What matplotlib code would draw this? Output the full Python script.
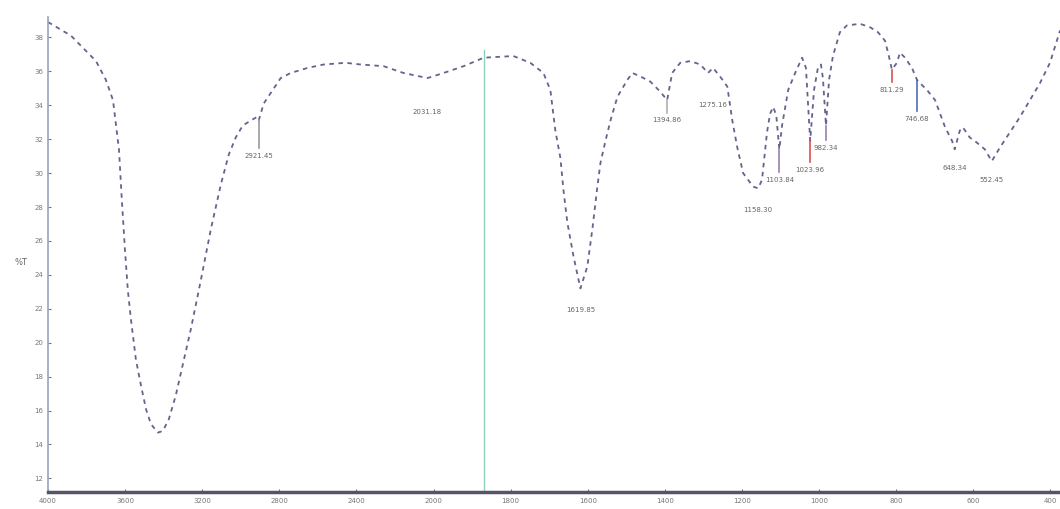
import numpy as np
import matplotlib
matplotlib.use('Agg')
import matplotlib.pyplot as plt

# IR spectrum (wavenumber cm-1, %T)
wavenumber = [4000, 3881, 3751, 3700, 3663, 3632, 3617, 3601, 3586, 3570, 3544, 3518,
              3492, 3466, 3430, 3404, 3373, 3337, 3301, 3259, 3207, 3155, 3104, 3062,
              3026, 2990, 2948, 2917, 2907, 2881, 2834, 2793, 2741, 2653, 2570, 2456,
              2378, 2259, 2156, 2031, 1974, 1922, 1870, 1793, 1749, 1715, 1697, 1684,
              1671, 1663, 1653, 1637, 1619, 1601, 1588, 1575, 1567, 1554, 1541, 1523,
              1497, 1484, 1464, 1438, 1412, 1394, 1381, 1360, 1334, 1308, 1288, 1275,
              1257, 1238, 1225, 1212, 1197, 1171, 1158, 1148, 1135, 1127, 1119, 1111,
              1103, 1096, 1080, 1062, 1044, 1034, 1023, 1013, 1003, 995, 990, 982,
              974, 964, 946, 928, 894, 868, 847, 829, 821, 811, 798, 790, 777, 759,
              746, 738, 720, 699, 686, 673, 655, 648, 635, 627, 609, 591, 570, 552,
              531, 505, 479, 453, 427, 401, 375]
transmittance = [38.9, 38.1, 36.6, 35.5, 34.3, 31.4, 28.4, 25.5, 23.1, 21.4, 19.0, 17.5,
                 16.1, 15.2, 14.7, 14.8, 15.5, 16.9, 18.7, 20.8, 23.7, 26.7, 29.3, 31.1,
                 32.1, 32.8, 33.1, 33.3, 33.1, 34.1, 34.9, 35.6, 35.9, 36.2, 36.4, 36.5,
                 36.4, 36.3, 35.9, 35.6, 35.9, 36.3, 36.8, 36.9, 36.5, 35.9, 34.9, 32.5,
                 30.9, 29.0, 27.1, 25.1, 23.2, 24.5, 26.7, 29.2, 30.6, 31.9, 33.1, 34.5,
                 35.5, 35.9, 35.7, 35.4, 34.8, 34.3, 35.9, 36.5, 36.6, 36.4, 35.9, 36.2,
                 35.7, 35.1, 33.1, 31.5, 30.0, 29.2, 29.1, 29.6, 32.4, 33.5, 33.9, 33.4,
                 31.4, 32.8, 34.9, 35.9, 36.8, 36.2, 31.9, 34.9, 36.2, 36.4, 35.6, 32.8,
                 35.5, 36.9, 38.3, 38.7, 38.8, 38.6, 38.3, 37.8, 37.1, 36.1, 36.5, 37.1,
                 36.8, 36.2, 35.5, 35.3, 34.9, 34.3, 33.5, 32.7, 31.9, 31.4, 32.5, 32.7,
                 32.1, 31.8, 31.4, 30.7, 31.5, 32.4, 33.3, 34.3, 35.3, 36.5, 38.4]

# peak labels
peak_wn = [2907, 2031, 1619, 1394, 1275, 1158, 1103, 1023, 982, 811, 746, 648, 552]
peak_t = [33.1, 35.6, 23.2, 34.3, 36.2, 29.1, 31.4, 31.9, 32.8, 36.1, 35.5, 31.4, 30.7]
peak_text = ['2921.45', '2031.18', '1619.85', '1394.86', '1275.16', '1158.30', '1103.84',
             '1023.96', '982.34', '811.29', '746.68', '648.34', '552.45']
label_t = [31.0, 33.6, 21.9, 33.1, 34.0, 27.8, 29.6, 30.2, 31.5, 34.9, 33.2, 30.3, 29.6]
line_col = ['#9a9a9a', None, None, '#b0b0b0', None, None, '#9a7fb0', '#d9534f',
            '#9a7fb0', '#d9534f', '#4a6fb5', None, None]

x_ticks = [4000, 3600, 3200, 2800, 2400, 2000, 1800, 1600, 1400, 1200, 1000, 800, 600, 400]
y_ticks = [12, 14, 16, 18, 20, 22, 24, 26, 28, 30, 32, 34, 36, 38]


# instrument axis: above 2000 cm-1 the scale is compressed by half
def fwd(w):
    w = np.asarray(w, dtype=float)
    return np.where(w > 2000, 2000 + (w - 2000) / 2.0, w)


def inv(v):
    v = np.asarray(v, dtype=float)
    return np.where(v > 2000, 2000 + (v - 2000) * 2.0, v)


fig = plt.figure(figsize=(10.6, 5.09), dpi=100)
ax = fig.add_axes([0.0453, 0.0334, 0.9547, 0.9332])
ax.set_xscale('function', functions=(fwd, inv))

ax.plot(wavenumber, transmittance, color='#63638e', lw=1.3, ls=(0, (2.5, 2.5)))

# cursor line
ax.axvline(1870, ymax=0.93, color='#8fd0b8', lw=1.0)

for w, t, s, ty, c in zip(peak_wn, peak_t, peak_text, label_t, line_col):
    if c is not None:
        ax.plot([w, w], [t, ty + 0.45], color=c, lw=1.2)
    ax.text(w, ty, s, ha='center', va='center', fontsize=5, color='#666666')

ax.set_xlim(4000, 375)
ax.set_ylim(11.2, 39.2)
ax.set_xticks(x_ticks)
ax.set_xticklabels([str(v) for v in x_ticks])
ax.set_yticks(y_ticks)
ax.set_yticklabels([str(v) for v in y_ticks])
ax.tick_params(axis='both', labelsize=5, colors='#777777', length=2, direction='in')
ax.tick_params(axis='x', pad=4)

for side in ['top', 'right']:
    ax.spines[side].set_visible(False)
ax.spines['left'].set_color('#9aa3c0')
ax.spines['left'].set_linewidth(1.2)
ax.spines['bottom'].set_color('#555566')
ax.spines['bottom'].set_linewidth(2.5)

fig.text(0.014, 0.48, '%T', fontsize=6, color='#666666')

fig.savefig('out.png', dpi=100)
